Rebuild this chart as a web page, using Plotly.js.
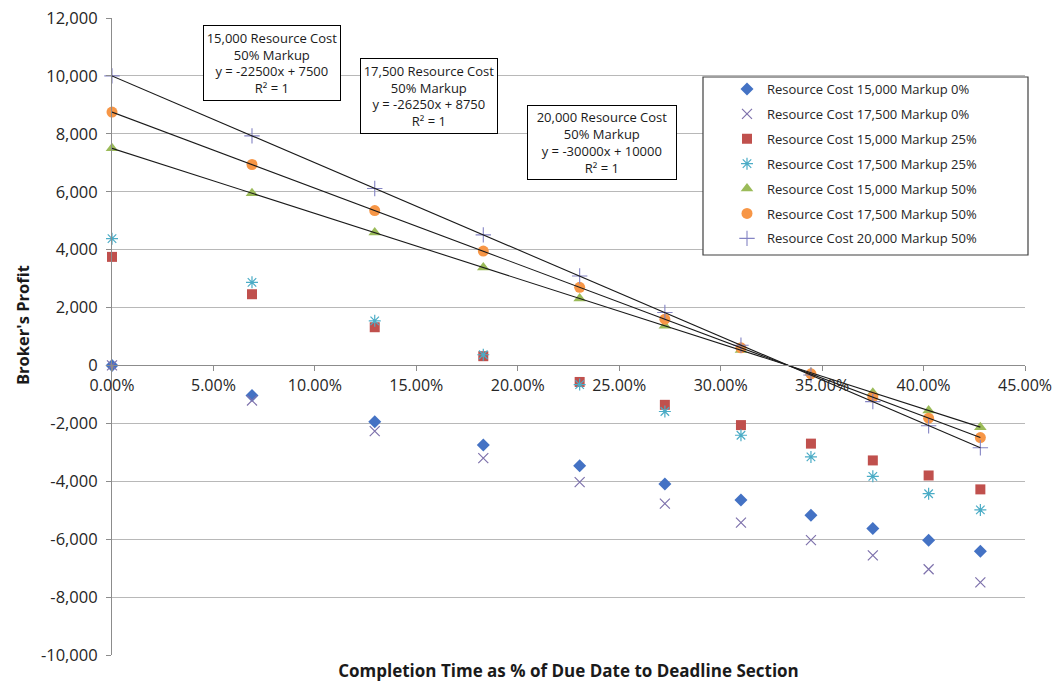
<!DOCTYPE html>
<html>
<head>
<meta charset="utf-8">
<script src="https://cdn.plot.ly/plotly-3.0.1.min.js"></script>
<style>html,body{margin:0;padding:0;background:#fff;}#chart{width:1060px;height:684px;}</style>
</head>
<body>
<div id="chart"></div>
<script>
// Completion time as fraction of due date to deadline section
const completion = [0, 0.069, 0.1295, 0.183, 0.2305, 0.2725, 0.31, 0.3445, 0.375, 0.4025, 0.428];

// Broker's profit per series
const rc15m0  = [0, -1040, -1940, -2750, -3460, -4090, -4650, -5170, -5630, -6040, -6420];
const rc175m0 = [0, -1210, -2270, -3200, -4030, -4770, -5430, -6030, -6560, -7040, -7490];
const rc15m25 = [3750, 2460, 1320, 320, -570, -1360, -2060, -2700, -3280, -3800, -4280];
const rc175m25 = [4380, 2870, 1540, 370, -660, -1590, -2410, -3160, -3830, -4430, -4990];
const rc15m50 = [7500, 5950, 4590, 3380, 2310, 1370, 530, -250, -940, -1560, -2130];
const rc175m50 = [8750, 6940, 5350, 3950, 2700, 1600, 610, -290, -1090, -1820, -2490];
const rc20m50 = [10000, 7930, 6110, 4510, 3090, 1830, 700, -330, -1250, -2080, -2840];

const seriesNames = [
  "Resource Cost 15,000 Markup 0%",
  "Resource Cost 17,500 Markup 0%",
  "Resource Cost 15,000 Markup 25%",
  "Resource Cost 17,500 Markup 25%",
  "Resource Cost 15,000 Markup 50%",
  "Resource Cost 17,500 Markup 50%",
  "Resource Cost 20,000 Markup 50%"
];

const trendLabels = [
  "15,000 Resource Cost<br>50% Markup<br>y = -22500x + 7500<br>R² = 1",
  "17,500 Resource Cost<br>50% Markup<br>y = -26250x + 8750<br>R² = 1",
  "20,000 Resource Cost<br>50% Markup<br>y = -30000x + 10000<br>R² = 1"
];

const yTickVals = [-10000, -8000, -6000, -4000, -2000, 0, 2000, 4000, 6000, 8000, 10000, 12000];
const yTickLabels = ["-10,000", "-8,000", "-6,000", "-4,000", "-2,000", "0", "2,000", "4,000", "6,000", "8,000", "10,000", "12,000"];

const FONT = "'Open Sans', 'Liberation Sans', sans-serif";

function pts(y, name, symbol, color, size, lineW) {
  const m = {symbol: symbol, color: color, size: size};
  if (lineW) m.line = {color: color, width: lineW};
  return {x: completion, y: y, name: name, type: 'scatter', mode: 'markers',
          marker: m, cliponaxis: false, legendgroup: name};
}
function trend(y) {
  return {x: completion, y: y, type: 'scatter', mode: 'lines', showlegend: false,
          hoverinfo: 'skip', cliponaxis: false, line: {color: '#1a1a1a', width: 1.1}};
}

const data = [
  pts(rc15m0, seriesNames[0], 'diamond', '#4472C4', 10),
  pts(rc175m0, seriesNames[1], 'x-thin-open', '#7E72AC', 10, 1.2),
  pts(rc15m25, seriesNames[2], 'square', '#C0504D', 10),
  pts(rc175m25, seriesNames[3], 'asterisk-open', '#4BACC6', 10, 1.2),
  pts(rc15m50, seriesNames[4], 'triangle-up', '#9BBB59', 11),
  pts(rc175m50, seriesNames[5], 'circle', '#F79646', 11),
  pts(rc20m50, seriesNames[6], 'cross-thin-open', '#8484C4', 11, 1.1),
  trend(rc15m50), trend(rc175m50), trend(rc20m50)
];

const L = 112, T = 18, W = 913, H = 637;
const px = v => (v - L) / W;
const py = v => (T + H - v) / H;

const boxAnn = (text, cx, cy, w, h) => ({
  text: text, xref: 'paper', yref: 'paper', x: px(cx), y: py(cy),
  xanchor: 'center', yanchor: 'middle', showarrow: false,
  width: w, height: h, align: 'center', valign: 'middle',
  bgcolor: '#ffffff', bordercolor: '#000000', borderwidth: 1, borderpad: 1,
  font: {family: FONT, size: 13, color: '#1a1a1a'}
});

const layout = {
  width: 1060, height: 684,
  margin: {l: L, r: 1060 - L - W, t: T, b: 684 - T - H},
  paper_bgcolor: '#ffffff', plot_bgcolor: '#ffffff',
  font: {family: FONT, color: '#262626'},
  showlegend: true,
  legend: {x: px(727), y: py(74), xanchor: 'left', yanchor: 'top',
           bgcolor: 'rgba(0,0,0,0)', borderwidth: 0, tracegroupgap: 5,
           font: {family: FONT, size: 13, color: '#262626'}},
  xaxis: {
    range: [0, 0.45], dtick: 0.05, tick0: 0, tickformat: '.2%',
    anchor: 'free', position: 10000 / 22000,
    showgrid: false, zeroline: false,
    showline: true, linecolor: '#8c8c8c', linewidth: 1,
    ticks: 'outside', ticklen: 5, tickcolor: '#8c8c8c',
    tickfont: {family: FONT, size: 16, color: '#262626'},
    title: {text: 'Completion Time as % of Due Date to Deadline Section',
            font: {family: FONT, size: 17, color: '#1a1a1a', weight: 'bold'}, standoff: 270}
  },
  yaxis: {
    range: [-10000, 12000], tickvals: yTickVals, ticktext: yTickLabels,
    showgrid: true, gridcolor: '#b8b8b8', gridwidth: 1, zeroline: false,
    showline: true, linecolor: '#8c8c8c', linewidth: 1,
    ticks: 'outside', ticklen: 5, tickcolor: '#8c8c8c', ticklabelstandoff: 5,
    tickfont: {family: FONT, size: 16.5, color: '#262626'}
  },
  shapes: [
    {type: 'rect', xref: 'paper', yref: 'paper', x0: px(703), x1: px(1028), y0: py(255), y1: py(77),
     line: {color: '#404040', width: 1.2}, fillcolor: '#ffffff', layer: 'above'}
  ],
  annotations: [
    boxAnn(trendLabels[0], 271.5, 63, 134, 72),
    boxAnn(trendLabels[1], 428.5, 96, 134, 72),
    boxAnn(trendLabels[2], 601.5, 142.5, 146, 71),
    {text: "Broker's Profit", xref: 'paper', yref: 'paper', x: px(22), y: py(325),
     xanchor: 'center', yanchor: 'middle', textangle: -90, showarrow: false,
     font: {family: FONT, size: 16.5, color: '#1a1a1a', weight: 'bold'}}
  ]
};

Plotly.newPlot('chart', data, layout, {displayModeBar: false, staticPlot: true});
</script>
</body>
</html>
